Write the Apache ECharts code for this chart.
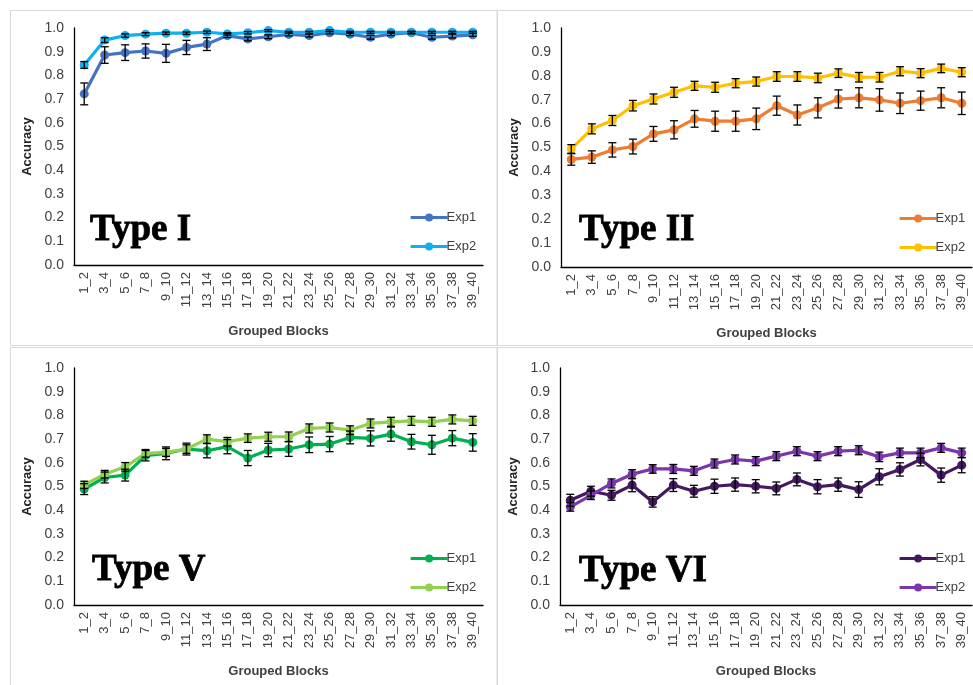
<!DOCTYPE html>
<html>
<head>
<meta charset="utf-8">
<script src="https://cdn.jsdelivr.net/npm/echarts@6/dist/echarts.min.js"></script>
<style>
html,body{margin:0;padding:0;background:#fff;}
#chart{width:973px;height:685px;}
</style>
</head>
<body>
<div id="chart"></div>
<script>
const categories = ['1_2','3_4','5_6','7_8','9_10','11_12','13_14','15_16','17_18','19_20','21_22','23_24','25_26','27_28','29_30','31_32','33_34','35_36','37_38','39_40'];
const yTicks = [0,0.1,0.2,0.3,0.4,0.5,0.6,0.7,0.8,0.9,1.0];
const panelTitles = ['Type I','Type II','Type V','Type VI'];
const seriesNames = ['Exp1','Exp2'];

// Type I
const typeI_exp1 = [0.722,0.886,0.896,0.903,0.893,0.918,0.932,0.968,0.954,0.963,0.973,0.968,0.980,0.974,0.961,0.974,0.980,0.961,0.966,0.971];
const typeI_exp1_err = [0.046,0.035,0.033,0.030,0.038,0.030,0.027,0.008,0.008,0.008,0.006,0.006,0.005,0.006,0.008,0.006,0.005,0.008,0.008,0.006];
const typeI_exp2 = [0.844,0.949,0.968,0.974,0.978,0.978,0.982,0.975,0.980,0.989,0.982,0.982,0.989,0.982,0.982,0.982,0.982,0.982,0.982,0.982];
const typeI_exp2_err = [0.014,0.010,0.007,0.006,0.005,0.005,0.005,0.005,0.005,0.004,0.004,0.004,0.004,0.004,0.004,0.004,0.004,0.004,0.004,0.004];

// Type II
const typeII_exp1 = [0.450,0.460,0.490,0.504,0.557,0.574,0.620,0.610,0.610,0.620,0.675,0.636,0.666,0.703,0.708,0.699,0.685,0.696,0.708,0.685];
const typeII_exp1_err = [0.024,0.026,0.030,0.031,0.031,0.038,0.035,0.042,0.042,0.045,0.040,0.042,0.042,0.038,0.042,0.047,0.043,0.040,0.042,0.047];
const typeII_exp2 = [0.494,0.578,0.613,0.675,0.703,0.731,0.758,0.752,0.769,0.776,0.797,0.797,0.791,0.811,0.794,0.794,0.819,0.811,0.831,0.815];
const typeII_exp2_err = [0.018,0.021,0.021,0.022,0.021,0.021,0.019,0.021,0.019,0.019,0.020,0.020,0.020,0.018,0.020,0.020,0.019,0.019,0.018,0.019];

// Type V
const typeV_exp1 = [0.489,0.538,0.548,0.630,0.640,0.658,0.651,0.668,0.620,0.654,0.658,0.676,0.679,0.707,0.703,0.721,0.689,0.676,0.704,0.686];
const typeV_exp1_err = [0.023,0.023,0.025,0.022,0.027,0.025,0.030,0.030,0.032,0.028,0.031,0.033,0.032,0.027,0.032,0.030,0.031,0.040,0.032,0.037];
const typeV_exp2 = [0.507,0.552,0.583,0.640,0.644,0.658,0.700,0.689,0.704,0.710,0.710,0.745,0.749,0.738,0.766,0.773,0.777,0.773,0.783,0.777];
const typeV_exp2_err = [0.015,0.016,0.018,0.016,0.017,0.018,0.018,0.018,0.018,0.019,0.020,0.019,0.019,0.018,0.019,0.019,0.019,0.019,0.019,0.019];

// Type VI
const typeVI_exp1 = [0.442,0.480,0.463,0.506,0.435,0.506,0.480,0.501,0.508,0.501,0.492,0.530,0.499,0.508,0.487,0.541,0.572,0.614,0.548,0.590];
const typeVI_exp1_err = [0.025,0.021,0.021,0.028,0.022,0.027,0.025,0.030,0.028,0.028,0.027,0.027,0.030,0.028,0.033,0.034,0.028,0.027,0.030,0.032];
const typeVI_exp2 = [0.414,0.463,0.513,0.552,0.574,0.574,0.566,0.597,0.614,0.607,0.628,0.649,0.628,0.649,0.653,0.625,0.642,0.642,0.663,0.642];
const typeVI_exp2_err = [0.018,0.018,0.019,0.019,0.018,0.019,0.019,0.019,0.019,0.019,0.019,0.019,0.019,0.019,0.019,0.020,0.020,0.020,0.019,0.020];

const panelData = [
  [typeI_exp1, typeI_exp1_err, typeI_exp2, typeI_exp2_err],
  [typeII_exp1, typeII_exp1_err, typeII_exp2, typeII_exp2_err],
  [typeV_exp1, typeV_exp1_err, typeV_exp2, typeV_exp2_err],
  [typeVI_exp1, typeVI_exp1_err, typeVI_exp2, typeVI_exp2_err]
];
const panelColors = [
  ['#4472C4','#0FB0F0'],
  ['#ED7D31','#FFC000'],
  ['#00B050','#92D050'],
  ['#44195F','#7B36AE']
];

// layout
const grids = [
  {left:74, top:28, width:409, height:237},
  {left:561, top:28, width:411, height:239},
  {left:74, top:368, width:409, height:237},
  {left:560, top:368, width:412, height:237}
];
const legendPos = [
  {left:409, top:211},
  {left:898, top:212},
  {left:409, top:552},
  {left:898, top:552}
];
const titlePos = [[90,249],[579,249],[92,589],[579,590]];
const panelRects = [
  [10.5,10.5,486.5,335],
  [497.5,10.5,480,335],
  [10.5,347.5,486.5,340],
  [497.5,347.5,480,340]
];

const FONT = '"Liberation Sans", Arial, sans-serif';

function errorBarRender(params, api) {
  const xi = api.value(0);
  const lo = api.coord([xi, api.value(1)]);
  const hi = api.coord([xi, api.value(2)]);
  const hw = 4;
  const st = {stroke:'#000', lineWidth:1.3};
  return {
    type:'group',
    children:[
      {type:'line', shape:{x1:lo[0], y1:lo[1], x2:hi[0], y2:hi[1]}, style:st},
      {type:'line', shape:{x1:lo[0]-hw, y1:lo[1], x2:lo[0]+hw, y2:lo[1]}, style:st},
      {type:'line', shape:{x1:hi[0]-hw, y1:hi[1], x2:hi[0]+hw, y2:hi[1]}, style:st}
    ]
  };
}

const option = {
  animation:false,
  backgroundColor:'#fff',
  grid: grids.map(g => Object.assign({containLabel:false}, g)),
  xAxis: grids.map((g,i) => ({
    type:'category', gridIndex:i, data:categories, boundaryGap:true,
    name:'Grouped Blocks', nameLocation:'middle', nameGap:60,
    nameTextStyle:{fontFamily:FONT, fontWeight:'bold', fontSize:13, color:'#404040'},
    axisLine:{lineStyle:{color:'#000', width:1.3}},
    axisTick:{show:false},
    axisLabel:{rotate:90, interval:0, fontFamily:FONT, fontSize:13, color:'#404040', margin:7}
  })),
  yAxis: grids.map((g,i) => ({
    type:'value', gridIndex:i, min:0, max:1, interval:0.1,
    name:'Accuracy', nameLocation:'middle', nameGap:40,
    nameTextStyle:{fontFamily:FONT, fontWeight:'bold', fontSize:13, color:'#262626'},
    axisLine:{show:true, lineStyle:{color:'#000', width:1.3}},
    axisTick:{show:false},
    splitLine:{show:false},
    axisLabel:{fontFamily:FONT, fontSize:14, color:'#404040', margin:10, formatter:v => v.toFixed(1)}
  })),
  legend: legendPos.map((p,i) => ({
    left:p.left, top:p.top, orient:'vertical', padding:0, itemGap:16, itemWidth:37, itemHeight:10,
    data:seriesNames.map(n => 'P'+i+'-'+n),
    formatter: n => n.split('-')[1],
    lineStyle:{width:3.2},
    textStyle:{fontFamily:FONT, fontSize:13, color:'#404040', padding:[0,0,0,-6]},
    selectedMode:false
  })),
  series: [],
  graphic: []
};

panelData.forEach((d,i) => {
  [0,1].forEach(k => {
    const vals = d[k*2];
    option.series.push({
      type:'line', name:'P'+i+'-'+seriesNames[k], xAxisIndex:i, yAxisIndex:i,
      data:vals, symbol:'circle', symbolSize:9, showSymbol:true,
      lineStyle:{width:3.2, color:panelColors[i][k]},
      itemStyle:{color:panelColors[i][k]}, z:2+k
    });
  });
  [0,1].forEach(k => {
    const vals = d[k*2], errs = d[k*2+1];
    option.series.push({
      type:'custom', name:'err'+i+k, xAxisIndex:i, yAxisIndex:i,
      renderItem:errorBarRender, encode:{x:0, y:[1,2]}, z:5,
      data: vals.map((v,j) => [j, v-errs[j], v+errs[j]])
    });
  });
});

panelRects.forEach(r => {
  option.graphic.push({type:'rect', shape:{x:r[0], y:r[1], width:r[2], height:r[3]},
    style:{fill:'none', stroke:'#d9d9d9', lineWidth:1}, silent:true, z:0});
});
panelTitles.forEach((t,i) => {
  option.graphic.push({type:'text', x:titlePos[i][0], y:titlePos[i][1],
    style:{text:t, fontFamily:'"Liberation Serif", "Times New Roman", serif', fontWeight:'bold', fontSize:37, fill:'#000',
      stroke:'#000', lineWidth:0.8,
      verticalAlign:'bottom', align:'left'}, z:10});
});

const chart = echarts.init(document.getElementById('chart'), null, {renderer:'canvas'});
chart.setOption(option);
</script>
</body>
</html>
